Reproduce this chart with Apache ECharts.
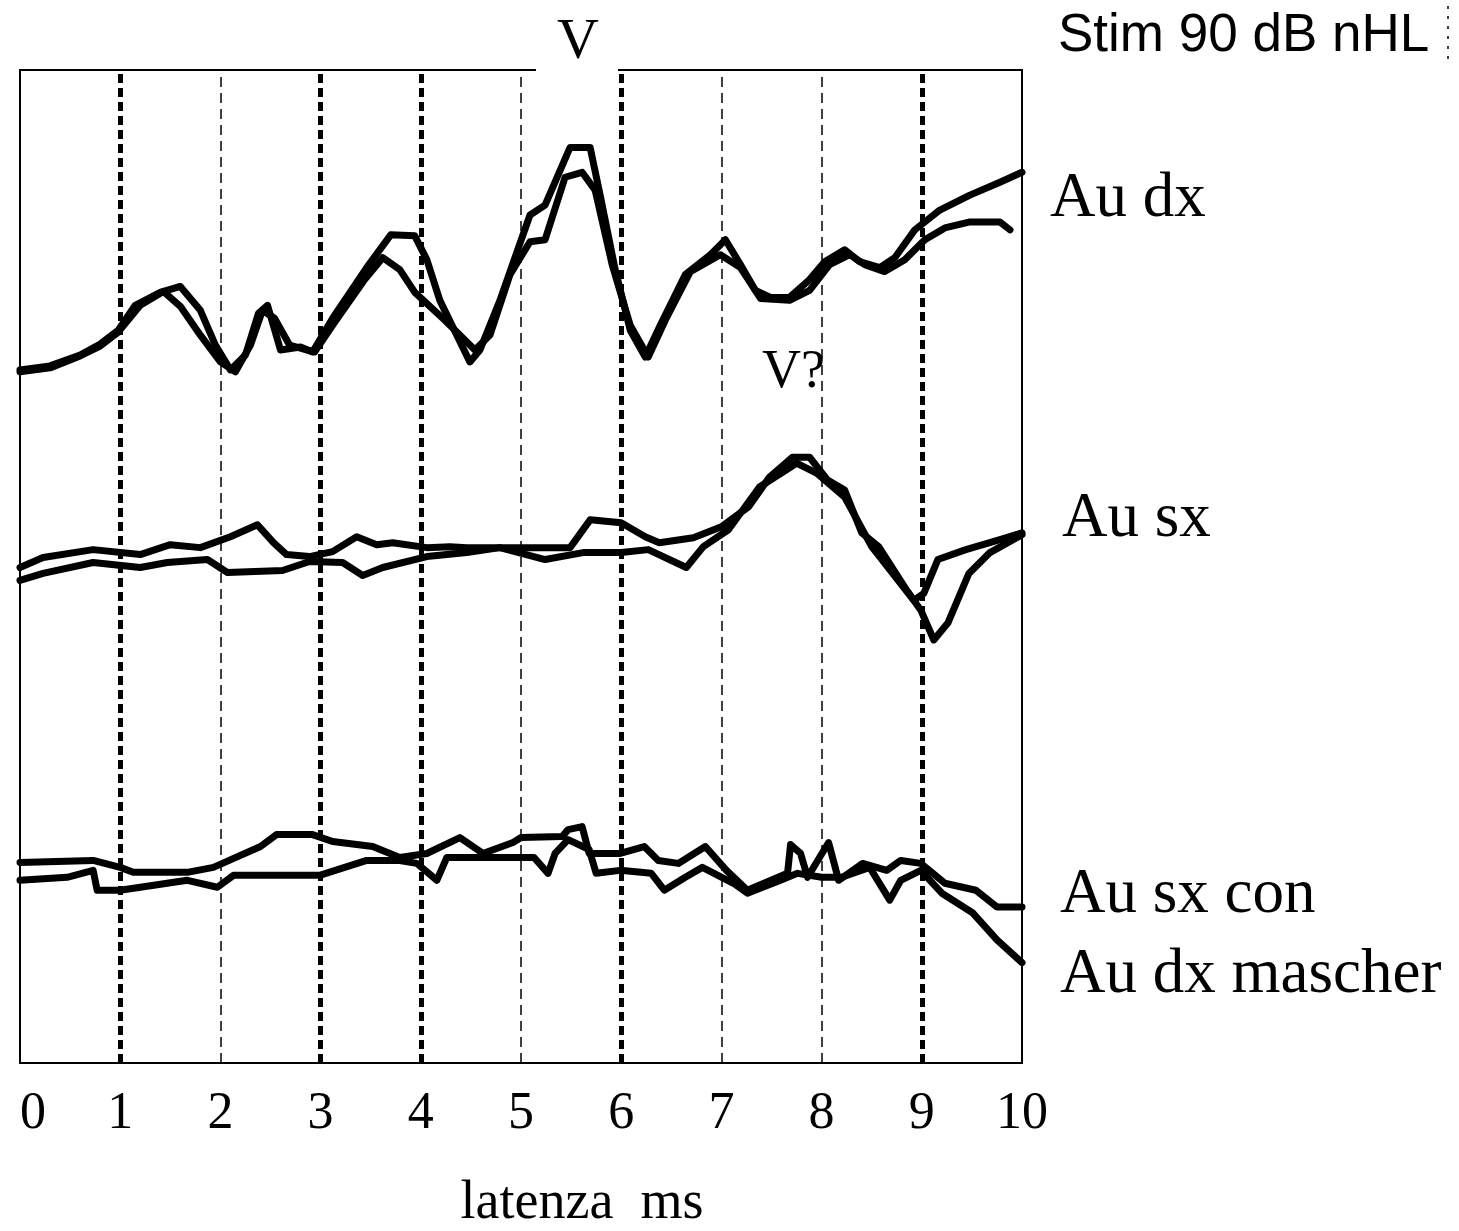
<!DOCTYPE html>
<html>
<head>
<meta charset="utf-8">
<script src="https://cdn.jsdelivr.net/npm/echarts@6/dist/echarts.min.js"></script>
<style>
html, body { margin: 0; padding: 0; background: #fff; }
#chart { width: 1459px; height: 1231px; }
</style>
</head>
<body>
<div id="chart"></div>
<script>
// latenza (ms) / ampiezza (unita' arbitrarie)
var auDx1 = [[0,69.8],[0.30,70.2],[0.60,71.3],[0.80,72.4],[0.98,73.8],[1.15,76.3],[1.40,77.6],[1.60,78.2],[1.80,75.8],[1.95,72.3],[2.10,69.8],[2.25,71.3],[2.38,75.5],[2.47,76.3],[2.60,71.8],[2.80,72.1],[2.92,71.6],[3.12,75.0],[3.46,80.1],[3.70,83.4],[3.94,83.3],[4.06,80.9],[4.19,76.8],[4.49,70.6],[4.59,71.8],[4.79,76.8],[4.95,81.4],[5.09,85.4],[5.24,86.4],[5.49,92.2],[5.69,92.2],[5.79,87.4],[5.94,79.9],[6.09,73.8],[6.24,71.1],[6.39,74.3],[6.64,79.4],[6.89,81.4],[7.04,82.9],[7.19,80.4],[7.34,77.8],[7.49,77.1],[7.68,77.1],[7.88,78.9],[8.03,80.7],[8.23,81.9],[8.38,80.7],[8.58,80.1],[8.73,81.1],[8.93,83.9],[9.18,85.9],[9.48,87.4],[9.78,88.7],[10,89.7]];
var auDx2 = [[0,69.6],[0.30,70.0],[0.60,71.2],[0.80,72.2],[0.98,73.6],[1.20,76.3],[1.43,77.7],[1.60,76.2],[1.80,73.3],[2.00,70.6],[2.15,69.6],[2.30,72.3],[2.42,75.8],[2.54,75.0],[2.69,72.3],[2.94,71.6],[3.14,74.6],[3.44,78.9],[3.62,81.1],[3.79,79.9],[3.94,77.6],[4.24,74.8],[4.54,71.8],[4.69,73.3],[4.89,79.4],[5.09,82.7],[5.24,82.9],[5.44,89.2],[5.61,89.7],[5.74,87.9],[5.91,80.4],[6.09,74.3],[6.27,71.1],[6.44,74.8],[6.69,79.7],[6.99,81.4],[7.19,80.1],[7.39,77.0],[7.68,76.8],[7.88,77.8],[8.08,80.4],[8.28,81.4],[8.43,80.4],[8.63,79.7],[8.83,80.9],[9.03,82.9],[9.23,84.1],[9.48,84.7],[9.78,84.7],[9.88,83.9]];
var auSx1 = [[0,49.9],[0.23,50.9],[0.73,51.7],[1.20,51.2],[1.50,52.2],[1.80,51.9],[2.10,53.0],[2.37,54.2],[2.53,52.4],[2.66,51.2],[2.89,51.0],[3.12,51.5],[3.36,53.0],[3.56,52.2],[3.72,52.4],[4.06,51.9],[4.29,52.0],[4.46,51.9],[4.79,51.9],[5.49,51.9],[5.69,54.7],[6.00,54.4],[6.24,53.0],[6.38,52.4],[6.72,52.9],[7.00,54.0],[7.27,56.0],[7.48,59.0],[7.71,61.0],[7.88,61.0],[8.06,58.7],[8.23,57.7],[8.40,53.4],[8.57,52.0],[8.85,47.6],[8.99,45.6],[9.12,42.6],[9.26,44.3],[9.47,49.3],[9.68,51.4],[10,53.2]];
var auSx2 = [[0,48.6],[0.23,49.3],[0.73,50.4],[1.20,49.9],[1.47,50.4],[1.87,50.7],[2.07,49.4],[2.62,49.6],[2.89,50.5],[3.22,50.4],[3.42,49.1],[3.62,49.9],[4.06,51.0],[4.46,51.4],[4.79,51.9],[5.24,50.7],[5.62,51.4],[6.00,51.4],[6.27,51.7],[6.65,49.9],[6.82,52.0],[7.07,53.7],[7.38,58.0],[7.75,60.4],[7.95,59.4],[8.23,57.0],[8.50,52.0],[8.92,46.6],[9.02,47.3],[9.16,50.7],[9.44,51.7],[9.78,52.7],[10,53.4]];
var auSxCon1 = [[0,20.2],[0.73,20.4],[1.00,19.7],[1.13,19.2],[1.67,19.2],[1.93,19.7],[2.40,21.8],[2.56,23.0],[2.92,23.0],[3.12,22.3],[3.52,21.8],[3.79,20.7],[4.06,21.1],[4.39,22.7],[4.62,21.1],[4.92,22.2],[5.00,22.7],[5.41,22.8],[5.47,23.5],[5.61,23.8],[5.68,21.1],[5.99,21.1],[6.23,21.8],[6.37,20.4],[6.57,20.1],[6.84,21.8],[7.05,19.4],[7.26,17.4],[7.66,19.1],[7.69,22.0],[7.79,21.1],[7.86,18.7],[8.07,22.2],[8.17,18.4],[8.41,20.1],[8.65,19.4],[8.79,20.4],[8.99,20.1],[9.23,18.1],[9.54,17.4],[9.75,15.7],[10,15.7]];
var auSxCon2 = [[0,18.4],[0.47,18.7],[0.73,19.4],[0.77,17.4],[1.00,17.4],[1.67,18.4],[1.97,17.7],[2.13,18.9],[2.99,18.9],[3.46,20.4],[3.79,20.4],[3.96,20.1],[4.16,18.4],[4.26,20.7],[4.79,20.7],[5.13,20.7],[5.27,19.1],[5.34,21.1],[5.47,22.5],[5.68,21.5],[5.75,19.1],[5.99,19.4],[6.30,19.1],[6.43,17.4],[6.64,18.7],[6.81,19.7],[7.12,18.1],[7.26,17.1],[7.59,18.4],[7.76,19.1],[8.00,18.7],[8.20,18.7],[8.48,19.7],[8.68,16.4],[8.79,18.4],[8.99,19.4],[9.20,17.1],[9.51,15.1],[9.75,12.4],[10,10.1]];

var thickLines = [1, 3, 4, 6, 9];
var thinLines = [2, 5, 7, 8];
var traceNames = ['Au dx', 'Au sx', 'Au sx con', 'Au dx mascher'];

var SERIF = '"Liberation Serif", "Times New Roman", serif';

var chart = echarts.init(document.getElementById('chart'));

var gridLines = [];
thickLines.forEach(function (v) {
	gridLines.push({ xAxis: v, lineStyle: { color: '#000', width: 5, type: [9, 5] } });
});
thinLines.forEach(function (v) {
	gridLines.push({ xAxis: v, lineStyle: { color: '#000', width: 1.5, type: [10, 6] } });
});

function trace(name, data) {
	return {
		name: name,
		type: 'line',
		data: data,
		symbol: 'none',
		smooth: false,
		animation: false,
		lineStyle: { color: '#000', width: 7, join: 'round', cap: 'round' }
	};
}

var series = [
	trace('Au dx 1', auDx1),
	trace('Au dx 2', auDx2),
	trace('Au sx 1', auSx1),
	trace('Au sx 2', auSx2),
	trace('Au sx con 1', auSxCon1),
	trace('Au sx con 2', auSxCon2)
];
series[0].markLine = {
	silent: true,
	symbol: 'none',
	animation: false,
	label: { show: false },
	data: gridLines
};

chart.setOption({
	backgroundColor: '#fff',
	animation: false,
	grid: {
		left: 20,
		right: 437,
		top: 70,
		bottom: 168,
		outerBoundsMode: 'none',
		show: true,
		borderColor: '#000',
		borderWidth: 2,
		backgroundColor: 'transparent'
	},
	xAxis: {
		type: 'value',
		min: 0,
		max: 10,
		interval: 1,
		name: 'latenza  ms',
		nameLocation: 'middle',
		nameGap: 114,
		nameTextStyle: { fontFamily: SERIF, fontSize: 54, color: '#000', padding: [0, 0, 0, 122] },
		axisLine: { show: false },
		axisTick: { show: false },
		splitLine: { show: false },
		axisLabel: {
			fontFamily: SERIF, fontSize: 52, color: '#000', margin: 25,
			formatter: function (v) { return v === 0 ? '{z|0}' : String(v); },
			rich: { z: { fontFamily: SERIF, fontSize: 52, color: '#000', padding: [0, 0, 0, 26] } }
		}
	},
	yAxis: {
		type: 'value',
		min: 0,
		max: 100,
		show: false,
		splitLine: { show: false }
	},
	series: series,
	graphic: [
		{ type: 'text', left: 1058, top: 10, style: { text: 'Stim 90 dB nHL', font: '53px "Liberation Sans", Arial, sans-serif', fill: '#000' } },
		{ type: 'line', shape: { x1: 1448, y1: 6, x2: 1448, y2: 62 }, style: { stroke: '#000', lineWidth: 1.5, lineDash: [3, 7] } },
		{ type: 'rect', shape: { x: 536, y: 64, width: 82, height: 10 }, style: { fill: '#fff' }, z: 100 },
		{ type: 'text', left: 557, top: 14, z: 101, style: { text: 'V', font: '58px ' + SERIF, fill: '#000' } },
		{ type: 'text', left: 762, top: 346, z: 101, style: { text: 'V?', font: '54px ' + SERIF, fill: '#000' } },
		{ type: 'text', left: 1050, top: 168, style: { text: traceNames[0], font: '63px ' + SERIF, fill: '#000' } },
		{ type: 'text', left: 1062, top: 488, style: { text: traceNames[1], font: '63px ' + SERIF, fill: '#000' } },
		{ type: 'text', left: 1060, top: 864, style: { text: traceNames[2], font: '63px ' + SERIF, fill: '#000' } },
		{ type: 'text', left: 1060, top: 944, style: { text: traceNames[3], font: '63px ' + SERIF, fill: '#000' } }
	]
});
</script>
</body>
</html>
